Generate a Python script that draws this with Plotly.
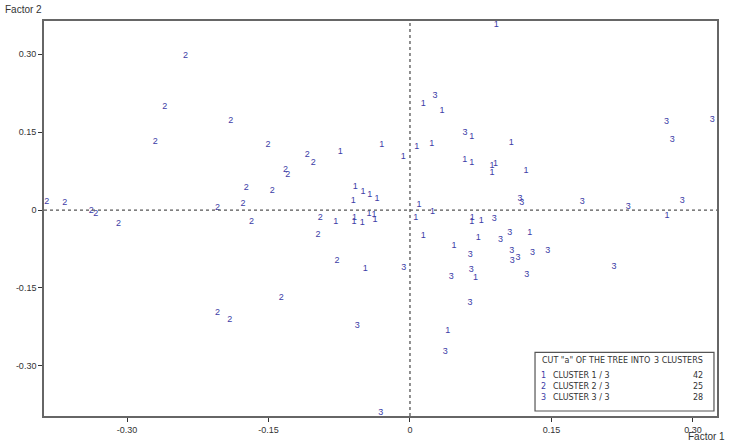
import plotly.graph_objects as go

# ---- data (Factor 1, Factor 2) per cluster ----
c1_x = [0.0915, -0.0739, -0.030, -0.0071, 0.0071, 0.023, 0.0141, 0.0339, 0.0654, 0.058,
        0.0654, 0.0869, 0.0908, 0.0869, -0.058, -0.0498, -0.0427, -0.035, -0.060, 0.0095,
        0.024, -0.0788, -0.0587, -0.0594, -0.0505, -0.0435, -0.038, -0.037, 0.006, 0.066,
        0.0654, 0.0756, 0.0141, 0.0724, 0.0466, -0.0474, 0.0696, 0.040, 0.1074, 0.123,
        0.2724, 0.127]
c1_y = [0.356, 0.1117, 0.126, 0.102, 0.1226, 0.1277, 0.204, 0.192, 0.142, 0.0977,
        0.0913, 0.0849, 0.0894, 0.0722, 0.044, 0.035, 0.0287, 0.021, 0.0186, 0.011,
        -0.003, -0.023, -0.014, -0.0224, -0.025, -0.0064, -0.0096, -0.019, -0.014, -0.014,
        -0.0217, -0.0204, -0.049, -0.054, -0.0696, -0.1124, -0.1296, -0.2318, 0.1297, 0.0747,
        -0.011, -0.044]

c2_x = [-0.385, -0.366, -0.338, -0.333, -0.309, -0.238, -0.260, -0.270, -0.190, -0.1735,
        -0.204, -0.177, -0.204, -0.191, -0.1505, -0.109, -0.1025, -0.132, -0.1297, -0.146,
        -0.168, -0.095, -0.0975, -0.0774, -0.1364]
c2_y = [0.0167, 0.0134, -0.001, -0.008, -0.027, 0.2976, 0.198, 0.131, 0.172, 0.0434,
        0.005, 0.0128, -0.198, -0.211, 0.126, 0.107, 0.0913, 0.0785, 0.067, 0.0364,
        -0.0217, -0.014, -0.048, -0.0977, -0.169]

c3_x = [0.0265, 0.0583, 0.0894, -0.0067, 0.064, 0.065, 0.0438, 0.0636, -0.0558, 0.0375,
        -0.031, 0.272, 0.3205, 0.278, 0.1166, 0.1184, 0.1827, 0.2315, 0.2887, 0.1057,
        0.0961, 0.1078, 0.1145, 0.1085, 0.130, 0.146, 0.1237, 0.2163]
c3_y = [0.221, 0.148, -0.017, -0.1105, -0.087, -0.1143, -0.129, -0.178, -0.2228, -0.2726,
        -0.391, 0.170, 0.1743, 0.136, 0.021, 0.0134, 0.0153, 0.0063, 0.0178, -0.044,
        -0.0575, -0.0791, -0.092, -0.0983, -0.0824, -0.0785, -0.124, -0.1086]

tick_vals = [-0.30, -0.15, 0, 0.15, 0.30]
tick_text = ["-0.30", "-0.15", "0", "0.15", "0.30"]

clusters = [("1", c1_x, c1_y), ("2", c2_x, c2_y), ("3", c3_x, c3_y)]
n_clusters = len(clusters)

PT = "#3c3ca6"
TXT = "#333333"
FONT = "Liberation Sans, Arial, sans-serif"
LFONT = "DejaVu Sans, sans-serif"

fig = go.Figure()
for lab, xs, ys in clusters:
    fig.add_trace(go.Scatter(
        x=xs, y=ys, mode="text", text=[lab] * len(xs),
        textposition="middle center",
        textfont=dict(family=FONT, size=9, color=PT),
        showlegend=False, hoverinfo="x+y"))

axis_common = dict(
    showgrid=False, zeroline=False, showline=True, linecolor="#666666",
    linewidth=1.6, mirror=True, ticks="outside", ticklen=4, tickwidth=1,
    tickcolor="#333333", tickvals=tick_vals, ticktext=tick_text,
    tickfont=dict(family=FONT, size=9, color=TXT))

fig.update_xaxes(range=[-0.388, 0.3255], **axis_common)
fig.update_yaxes(range=[-0.3966, 0.364], **axis_common)

shapes = [
    dict(type="line", xref="x", yref="paper", x0=0, x1=0, y0=0, y1=1,
         line=dict(color="#555555", width=1.3, dash="dot")),
    dict(type="line", xref="paper", yref="y", x0=0, x1=1, y0=0, y1=0,
         line=dict(color="#555555", width=1.3, dash="dot")),
    dict(type="rect", xref="paper", yref="paper", x0=0.7296, x1=0.9955,
         y0=0.0126, y1=0.1612, line=dict(color="#555555", width=1.2),
         fillcolor="white"),
]

annotations = [
    dict(text="Factor 2", xref="paper", yref="paper", x=0, y=1, xanchor="left",
         yanchor="bottom", xshift=-41, yshift=4, showarrow=False,
         font=dict(family=FONT, size=10, color=TXT)),
    dict(text="Factor 1", xref="paper", yref="paper", x=1, y=0, xanchor="right",
         yanchor="top", xshift=10, yshift=-13, showarrow=False,
         font=dict(family=FONT, size=10, color=TXT)),
]

# legend box content (paper coords)
lx0 = 0.7296
lx1 = 0.9955
row_y = [0.140, 0.102, 0.074, 0.046]
LF = 8
annotations.append(dict(
    text='CUT "a" OF THE TREE INTO', xref="paper", yref="paper",
    x=lx0, xshift=5, y=row_y[0], xanchor="left", yanchor="middle",
    showarrow=False, font=dict(family=LFONT, size=LF, color=TXT)))
annotations.append(dict(
    text="%d CLUSTERS" % n_clusters, xref="paper", yref="paper",
    x=lx1, xshift=-9, y=row_y[0], xanchor="right", yanchor="middle",
    showarrow=False, font=dict(family=LFONT, size=LF, color=TXT)))
for i, (lab, xs, ys) in enumerate(clusters):
    yy = row_y[i + 1]
    annotations.append(dict(text=lab, xref="paper", yref="paper", x=lx0, xshift=4,
                            y=yy, xanchor="left", yanchor="middle", showarrow=False,
                            font=dict(family=LFONT, size=LF, color=PT)))
    annotations.append(dict(text="CLUSTER %s / %d" % (lab, n_clusters), xref="paper",
                            yref="paper", x=lx0, xshift=16, y=yy, xanchor="left",
                            yanchor="middle", showarrow=False,
                            font=dict(family=LFONT, size=LF, color=TXT)))
    annotations.append(dict(text=str(len(xs)), xref="paper", yref="paper", x=lx1,
                            xshift=-9, y=yy, xanchor="right", yanchor="middle",
                            showarrow=False, font=dict(family=LFONT, size=LF, color=TXT)))

fig.update_layout(
    width=737, height=447, autosize=False,
    margin=dict(l=44, r=20, t=21, b=29),
    paper_bgcolor="white", plot_bgcolor="white",
    shapes=shapes, annotations=annotations, showlegend=False)

fig.write_html("out.html", config={"displayModeBar": False},
               post_script="document.body.style.margin='0px';document.body.style.overflow='hidden';")
